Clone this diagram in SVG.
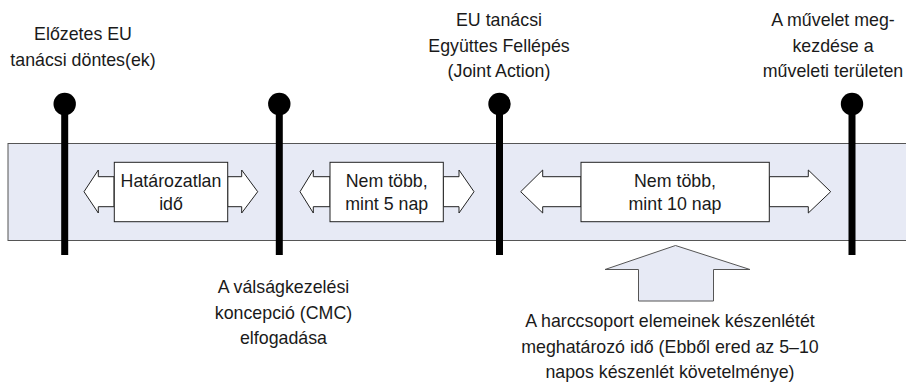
<svg xmlns="http://www.w3.org/2000/svg" width="906" height="385" viewBox="0 0 906 385">
<style>
text{font-family:"Liberation Sans",Arial,sans-serif;font-size:17.8px;fill:#1a1a1a;text-anchor:middle}
.band{fill:#E7EAF5;stroke:#555;stroke-width:1}
.arr{fill:#fff;stroke:#222;stroke-width:1}
.box{fill:#fff;stroke:#222;stroke-width:1}
.ms{stroke:#000;stroke-width:7}
.up{fill:#E7EAF5;stroke:#555;stroke-width:1}
</style>
<rect class="band" x="8" y="143.5" width="910" height="97"/>
<g id="connectors">
<polygon class="arr" points="114,176.7 98.3,176.7 98.3,170 84,191.7 98.3,213 98.3,206.7 114,206.7"/>
<polygon class="arr" points="227.7,176.7 241.7,176.7 241.7,170 257.7,191.7 241.7,213 241.7,206.7 227.7,206.7"/>
<polygon class="arr" points="330,176.7 313.3,176.7 313.3,170 300,191.7 313.3,213 313.3,206.7 330,206.7"/>
<polygon class="arr" points="443.3,176.7 459,176.7 459,170 474,191.7 459,213 459,206.7 443.3,206.7"/>
<polygon class="arr" points="581,176.7 542.7,176.7 542.7,170 520.7,191.7 542.7,213 542.7,206.7 581,206.7"/>
<polygon class="arr" points="769.3,176.7 808.3,176.7 808.3,170 830.7,191.7 808.3,213 808.3,206.7 769.3,206.7"/>
<polygon class="up" points="675.5,245.5 750,269.5 713.5,269.5 713.5,301 638.5,301 638.5,269.5 605,269.5"/>
</g>
<g id="m1"><line class="ms" x1="64.7" y1="104" x2="64.7" y2="255"/><circle cx="64.7" cy="104" r="11.2"/>
<text x="83" y="40">Előzetes EU</text><text x="83" y="65.5">tanácsi döntes(ek)</text></g>
<g id="m2"><line class="ms" x1="279.3" y1="104" x2="279.3" y2="255"/><circle cx="279.3" cy="104" r="11.2"/>
<text x="283.5" y="293.3">A válságkezelési</text><text x="283.5" y="318.5">koncepció (CMC)</text><text x="283.5" y="343.5">elfogadása</text></g>
<g id="m3"><line class="ms" x1="499.5" y1="104" x2="499.5" y2="255"/><circle cx="499.5" cy="104" r="11.2"/>
<text x="499" y="26">EU tanácsi</text><text x="499" y="51.5">Együttes Fellépés</text><text x="499" y="77">(Joint Action)</text></g>
<g id="m4"><line class="ms" x1="852" y1="104" x2="852" y2="255"/><circle cx="852" cy="104" r="11.2"/>
<text x="833" y="26">A művelet meg-</text><text x="833" y="51.5">kezdése a</text><text x="833" y="77">műveleti területen</text></g>
<g id="b1"><rect class="box" x="114.3" y="162.3" width="113.4" height="59.4"/>
<text x="171" y="187.3">Határozatlan</text><text x="171" y="210">idő</text></g>
<g id="b2"><rect class="box" x="330" y="162.3" width="113.3" height="59.4"/>
<text x="386.7" y="186.7">Nem több,</text><text x="386.7" y="210">mint 5 nap</text></g>
<g id="b3"><rect class="box" x="581" y="162.3" width="188.3" height="59.4"/>
<text x="675" y="186.5">Nem több,</text><text x="675" y="210">mint 10 nap</text></g>
<g id="note"><text x="670" y="327">A harccsoport elemeinek készenlétét</text><text x="670" y="352.5">meghatározó idő (Ebből ered az 5–10</text><text x="670" y="378">napos készenlét követelménye)</text></g>
</svg>
